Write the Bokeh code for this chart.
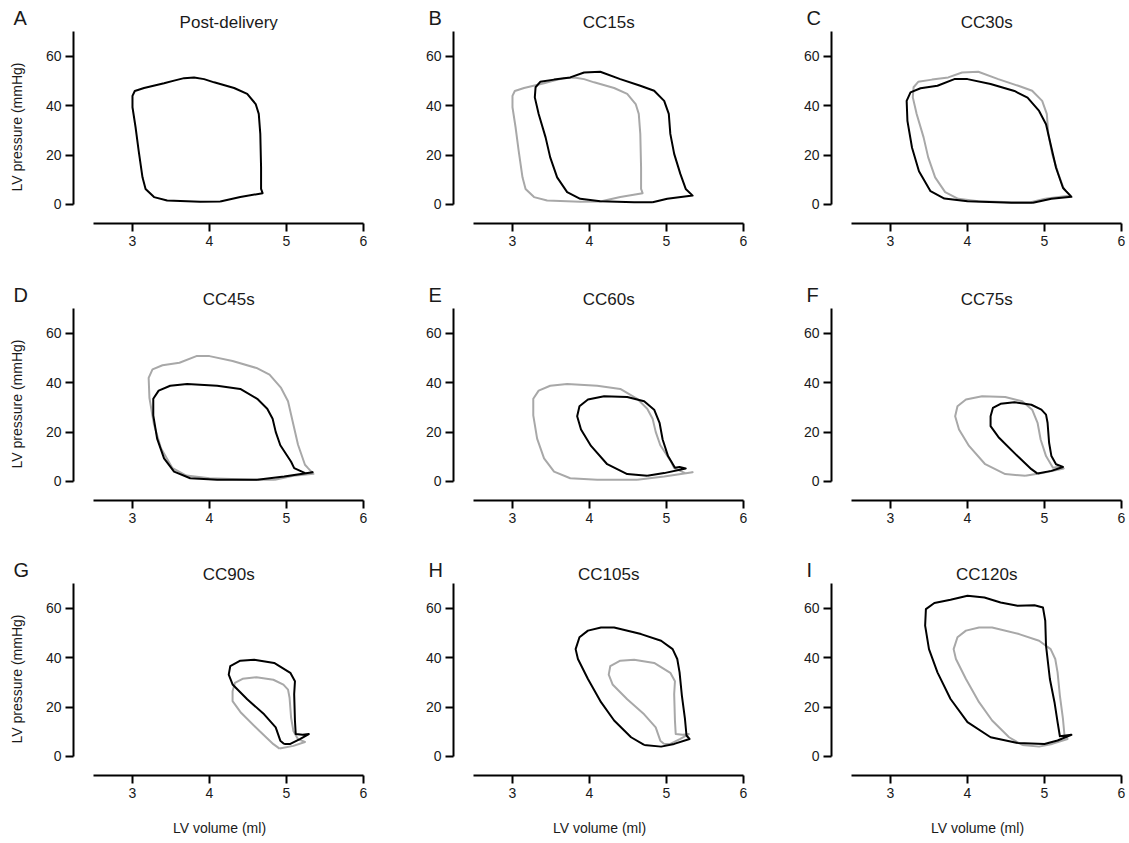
from bokeh.plotting import figure
from bokeh.layouts import column, row
from bokeh.models import Range1d, Label, FixedTicker
from bokeh.embed import file_html
from bokeh.resources import INLINE

# ---------------- data ----------------
titles = ["Post-delivery", "CC15s", "CC30s", "CC45s", "CC60s", "CC75s", "CC90s", "CC105s", "CC120s"]
letters = ["A", "B", "C", "D", "E", "F", "G", "H", "I"]
x_ticks = [3, 4, 5, 6]
y_ticks = [0, 20, 40, 60]
x_label = "LV volume (ml)"
y_label = "LV pressure (mmHg)"

vol_A = [4.14, 4.40, 4.69, 4.67, 4.67, 4.66, 4.64, 4.60, 4.49, 4.32, 4.06, 3.93, 3.80, 3.67, 3.54, 3.41, 3.15, 3.03, 3.00, 3.00, 3.04, 3.08, 3.13, 3.17, 3.28, 3.45, 3.88]
pres_A = [1.2, 3.0, 4.6, 6.3, 15.0, 28.6, 36.7, 40.7, 44.8, 47.2, 49.5, 50.8, 51.5, 51.2, 50.2, 49.1, 47.2, 46.0, 44.0, 39.4, 31.3, 21.8, 11.0, 6.3, 3.0, 1.6, 1.1]

vol_B = [4.82, 5.01, 5.34, 5.25, 5.18, 5.10, 5.05, 5.03, 4.97, 4.84, 4.66, 4.40, 4.14, 3.93, 3.75, 3.54, 3.36, 3.30, 3.29, 3.34, 3.43, 3.49, 3.58, 3.71, 3.88, 4.14, 4.58]
pres_B = [0.9, 2.3, 3.6, 6.3, 12.4, 20.5, 28.6, 36.7, 42.0, 46.1, 48.1, 50.8, 53.8, 53.5, 51.5, 50.6, 49.7, 47.5, 43.4, 36.7, 27.2, 19.1, 11.0, 5.0, 2.3, 1.3, 0.9]

vol_C = [4.85, 5.09, 5.35, 5.28, 5.24, 5.15, 5.09, 5.02, 4.93, 4.78, 4.61, 4.30, 4.00, 3.83, 3.61, 3.39, 3.26, 3.21, 3.22, 3.28, 3.37, 3.52, 3.70, 4.00, 4.57]
pres_C = [0.7, 2.3, 3.1, 5.4, 6.8, 14.9, 23.0, 32.5, 37.9, 43.3, 46.0, 48.8, 50.8, 50.8, 48.1, 47.1, 45.4, 42.0, 33.9, 23.0, 13.5, 5.4, 2.4, 1.35, 0.7]

vol_D = [4.62, 4.97, 5.34, 5.25, 5.10, 5.06, 4.92, 4.86, 4.82, 4.75, 4.62, 4.40, 4.10, 3.71, 3.49, 3.34, 3.27, 3.27, 3.32, 3.41, 3.54, 3.75, 4.10]
pres_D = [0.7, 2.0, 3.75, 3.3, 5.4, 8.0, 14.7, 20.1, 25.4, 29.5, 33.5, 37.5, 38.8, 39.5, 38.8, 36.8, 33.5, 26.8, 17.4, 9.4, 4.0, 1.3, 0.7]

vol_E = [4.75, 4.97, 5.25, 5.17, 5.11, 5.02, 4.95, 4.91, 4.84, 4.71, 4.49, 4.19, 3.98, 3.87, 3.84, 3.89, 4.02, 4.23, 4.49]
pres_E = [2.3, 3.4, 5.3, 5.9, 5.6, 10.3, 17.0, 23.8, 29.1, 32.5, 34.2, 34.5, 33.2, 30.5, 26.4, 21.1, 14.4, 7.0, 3.0]

vol_F = [4.91, 5.09, 5.24, 5.15, 5.09, 5.06, 5.04, 5.02, 4.96, 4.83, 4.61, 4.43, 4.33, 4.30, 4.30, 4.41, 4.65, 4.83]
pres_F = [3.2, 4.3, 5.9, 7.0, 10.3, 15.7, 23.8, 27.1, 29.1, 31.1, 32.1, 31.5, 29.8, 26.4, 22.4, 17.7, 10.3, 5.0]

vol_G = [4.97, 5.05, 5.18, 5.29, 5.21, 5.12, 5.11, 5.10, 5.11, 5.05, 4.84, 4.58, 4.40, 4.27, 4.25, 4.30, 4.49, 4.71, 4.86, 4.92]
pres_G = [5.1, 5.1, 7.1, 9.1, 8.8, 9.1, 14.5, 25.2, 30.5, 33.9, 37.9, 39.2, 38.8, 36.6, 33.2, 29.2, 23.2, 17.1, 11.8, 6.4]

vol_H = [4.71, 4.93, 5.10, 5.30, 5.26, 5.24, 5.20, 5.17, 5.14, 5.08, 4.93, 4.67, 4.32, 4.15, 3.98, 3.87, 3.82, 3.85, 3.98, 4.15, 4.32, 4.54]
pres_H = [4.7, 4.0, 5.1, 7.1, 8.5, 15.2, 24.7, 34.1, 39.5, 43.5, 46.9, 49.6, 52.3, 52.3, 51.0, 48.3, 43.5, 39.5, 31.4, 22.0, 14.6, 7.8]

vol_I = [4.65, 5.00, 5.17, 5.35, 5.20, 5.17, 5.13, 5.07, 5.02, 5.01, 4.98, 4.87, 4.65, 4.43, 4.22, 4.00, 3.78, 3.57, 3.46, 3.45, 3.50, 3.61, 3.78, 4.00, 4.30]
pres_I = [5.5, 5.1, 6.5, 8.8, 8.2, 13.9, 22.0, 31.4, 44.9, 55.0, 60.4, 61.3, 61.1, 62.4, 64.4, 65.1, 63.5, 62.2, 59.7, 53.0, 43.5, 34.1, 23.3, 13.9, 7.8]

volumes = [vol_A, vol_B, vol_C, vol_D, vol_E, vol_F, vol_G, vol_H, vol_I]
pressures = [pres_A, pres_B, pres_C, pres_D, pres_E, pres_F, pres_G, pres_H, pres_I]

# ---------------- layout / styling ----------------
FONT = "Liberation Sans"
TXT = "#1a1a1a"
GRAY = "#a8a8a8"
col_w = [380, 378, 370]
panel_h = [247, 245, 260]
HEAD_H = 30
LEFT = 73
FRAME_W = 292
FRAME_H = 193
X0 = 2.234
X1 = X0 + FRAME_W / 77.0
Y0, Y1 = -7.7, 70.5
XB = (2.5, 6)
YB = (0, 70)
TOTAL_W = sum(col_w)
col_x0 = [sum(col_w[:c]) for c in range(3)]
px_per_x = FRAME_W / (X1 - X0)


def closed(a):
    return list(a) + [a[0]]


def style_axis(ax, ticks, bnds, standoff):
    ax.ticker = FixedTicker(ticks=ticks)
    ax.bounds = bnds
    ax.axis_line_width = 2
    ax.axis_line_color = "black"
    ax.major_tick_line_width = 2
    ax.major_tick_line_color = "black"
    ax.major_tick_out = 8
    ax.major_tick_in = 0
    ax.minor_tick_line_color = None
    ax.major_label_text_font = FONT
    ax.major_label_text_font_size = "14px"
    ax.major_label_text_color = TXT
    ax.major_label_standoff = 4
    ax.axis_label_text_font = FONT
    ax.axis_label_text_font_size = "14px"
    ax.axis_label_text_font_style = "normal"
    ax.axis_label_text_color = TXT
    ax.axis_label_standoff = standoff


blocks = []
for r in range(3):
    # header strip with panel letters and titles (pixel-unit ranges)
    head = figure(width=TOTAL_W, height=HEAD_H, output_backend="svg", toolbar_location=None,
                  x_range=Range1d(0, TOTAL_W), y_range=Range1d(0, HEAD_H),
                  x_axis_type=None, y_axis_type=None, title=None,
                  min_border_left=0, min_border_right=0, min_border_top=0, min_border_bottom=0)
    head.grid.visible = False
    head.outline_line_color = None
    panels = []
    for c in range(3):
        i = r * 3 + c
        frame_left = col_x0[c] + LEFT
        title_x = frame_left + ((XB[0] + XB[1]) / 2 - X0) * px_per_x
        letter_x = frame_left - (60 if c == 0 else 25)
        head.add_layout(Label(x=title_x, y=8.5, text=titles[i], text_align="center",
                              text_baseline="alphabetic", text_font=FONT,
                              text_font_size="17px", text_color=TXT))
        head.add_layout(Label(x=letter_x, y=13, text=letters[i], text_align="left",
                              text_baseline="alphabetic", text_font=FONT,
                              text_font_size="20px", text_color=TXT))

        w, h = col_w[c], panel_h[r]
        p = figure(width=w, height=h, output_backend="svg", toolbar_location=None,
                   x_range=Range1d(X0, X1), y_range=Range1d(Y0, Y1),
                   min_border_left=LEFT, min_border_right=w - LEFT - FRAME_W,
                   min_border_top=0, min_border_bottom=h - FRAME_H)
        p.outline_line_color = None
        p.grid.visible = False
        style_axis(p.xaxis[0], x_ticks, XB, 19)
        style_axis(p.yaxis[0], y_ticks, YB, 18)
        if c == 0:
            p.yaxis[0].axis_label = y_label
        if r == 2:
            p.xaxis[0].axis_label = x_label

        if i > 0:
            p.line(closed(volumes[i - 1]), closed(pressures[i - 1]), line_color=GRAY,
                   line_width=2, line_join="round")
        p.line(closed(volumes[i]), closed(pressures[i]), line_color="black",
               line_width=2, line_join="round")
        panels.append(p)
    blocks.append(head)
    blocks.append(row(*panels))

layout = column(*blocks)
open("out.html", "w").write(file_html(layout, INLINE))
